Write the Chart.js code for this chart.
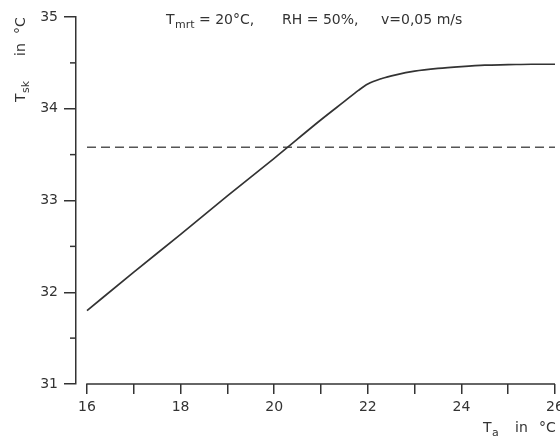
<!DOCTYPE html>
<html lang="de">
<head>
  <meta charset="UTF-8">
  <title>Hauttemperatur</title>
  <script src="https://cdn.jsdelivr.net/npm/chart.js@4.4.0/dist/chart.umd.min.js"></script>
  <style>
    html, body { margin: 0; padding: 0; background: #fff; }
    #wrap { width: 560px; height: 439px; }
  </style>
</head>
<body>
<div id="wrap"><canvas id="c" width="560" height="439"></canvas></div>
<script>
  // air temperature T_a (°C) and skin temperature T_sk (°C)
  const ta = [16, 17, 18, 19, 20, 21, 21.5, 21.8, 22, 22.3, 22.6, 23, 23.5, 24, 24.5, 25, 25.5, 26];
  const tsk = [31.80, 32.22, 32.63, 33.05, 33.46, 33.88, 34.08, 34.20, 34.27, 34.33, 34.37, 34.41, 34.44, 34.46, 34.475, 34.48, 34.485, 34.485];
  // dashed reference level
  const refX = [16, 26];
  const refY = [33.58, 33.58];
  // axis ticks
  const xTicks = [16, 17, 18, 19, 20, 21, 22, 23, 24, 25, 26];
  const xLabels = [16, 18, 20, 22, 24, 26];
  const yTicks = [31, 32, 33, 34, 35];
  const yMinor = [31.5, 32.5, 33.5, 34.5];

  const ink = '#333';
  const font = 'DejaVu Sans';

  // draws x axis line, minor y ticks and the texts with subscripts
  const extras = {
    id: 'extras',
    afterDraw(chart) {
      const ctx = chart.ctx;
      const x = chart.scales.x, y = chart.scales.y;
      const bottom = chart.chartArea.bottom;
      const left = chart.chartArea.left;
      ctx.save();
      ctx.strokeStyle = ink;
      ctx.lineWidth = 1.5;
      ctx.beginPath();
      ctx.moveTo(x.getPixelForValue(xTicks[0]) - 0.75, bottom);
      ctx.lineTo(x.getPixelForValue(xTicks[xTicks.length - 1]), bottom);
      ctx.stroke();
      yMinor.forEach(v => {
        const py = y.getPixelForValue(v);
        ctx.beginPath();
        ctx.moveTo(left - 6, py);
        ctx.lineTo(left, py);
        ctx.stroke();
      });

      ctx.fillStyle = ink;
      ctx.textBaseline = 'alphabetic';
      ctx.textAlign = 'left';
      function put(t, px, py, sub) {
        ctx.font = (sub ? '11px "' : '14px "') + font + '"';
        ctx.fillText(t, px, py + (sub ? 4 : 0));
      }
      // header
      put('T', 166, 24);
      put('mrt', 175, 24, true);
      put('= 20°C,', 199, 24);
      put('RH = 50%,', 282, 24);
      put('v=0,05 m/s', 381, 24);
      // x title
      put('T', 483, 432);
      put('a', 492, 432, true);
      put('in', 515, 432);
      put('°C', 539, 432);
      // y title, rotated
      ctx.translate(25, 102);
      ctx.rotate(-Math.PI / 2);
      put('T', 0, 0);
      put('sk', 9, 0, true);
      put('in', 46, 0);
      put('°C', 68, 0);
      ctx.restore();
    }
  };

  new Chart(document.getElementById('c'), {
    type: 'line',
    data: {
      datasets: [
        {
          label: 'T_sk',
          data: ta.map((v, i) => ({ x: v, y: tsk[i] })),
          borderColor: ink,
          borderWidth: 1.7,
          pointRadius: 0,
          cubicInterpolationMode: 'monotone',
          fill: false
        },
        {
          label: 'Referenz',
          data: refX.map((v, i) => ({ x: v, y: refY[i] })),
          borderColor: '#555',
          borderWidth: 1.5,
          borderDash: [9, 5],
          pointRadius: 0,
          fill: false
        }
      ]
    },
    options: {
      responsive: false,
      animation: false,
      layout: { padding: { top: 17, right: 5, left: 0, bottom: 0 } },
      plugins: { legend: { display: false }, tooltip: { enabled: false } },
      scales: {
        x: {
          type: 'linear',
          min: 15.765,
          max: 26,
          afterBuildTicks: s => { s.ticks = xTicks.map(v => ({ value: v })); },
          afterFit: s => { s.height = 55; s.paddingRight = 0; s.paddingLeft = 0; },
          border: { display: false },
          grid: { drawOnChartArea: false, drawTicks: true, tickLength: 10, color: ink, lineWidth: 1.5 },
          ticks: {
            color: ink,
            padding: 5,
            maxRotation: 0,
            autoSkip: false,
            font: { family: font, size: 14 },
            callback: v => xLabels.includes(v) ? String(v) : ''
          }
        },
        y: {
          type: 'linear',
          min: 31,
          max: 35,
          afterBuildTicks: s => { s.ticks = yTicks.map(v => ({ value: v })); },
          afterFit: s => { s.width = 76; s.paddingTop = 0; s.paddingBottom = 0; },
          border: { display: true, color: ink, width: 1.5 },
          grid: { drawOnChartArea: false, drawTicks: true, tickLength: 12, color: ink, lineWidth: 1.5 },
          ticks: {
            color: ink,
            padding: 6,
            font: { family: font, size: 14 },
            callback: v => String(v)
          }
        }
      }
    },
    plugins: [extras]
  });
</script>
</body>
</html>
